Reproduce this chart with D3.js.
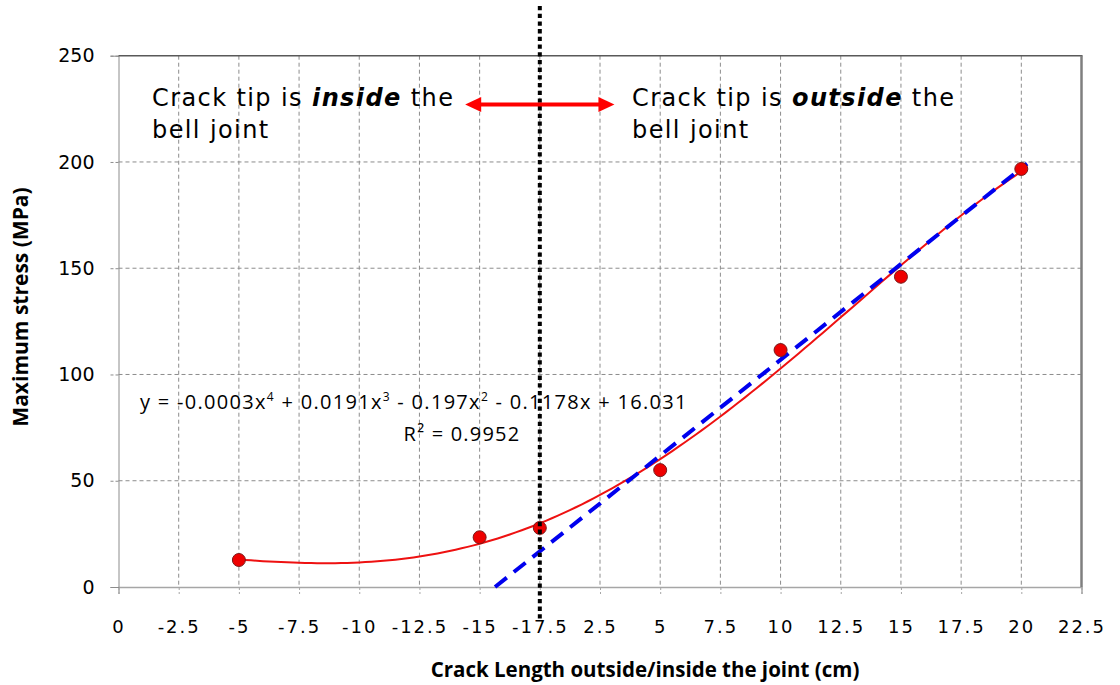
<!DOCTYPE html>
<html>
<head>
<meta charset="utf-8">
<script src="https://cdn.jsdelivr.net/npm/d3@7/dist/d3.min.js"></script>
<style>
  body { margin: 0; background: #fff; }
  text { fill: #000; }
</style>
</head>
<body>
<svg id="canvas" width="1120" height="685"></svg>
<script>
// axis position of each point (the axis runs 0..40, labels are overwritten below)
const POS_X = [5, 15, 17.5, 22.5, 27.5, 32.5, 37.5];
const STRESS = [12.7, 23.4, 27.8, 55, 111.5, 146, 196.7];

const X_LABELS = ["0", "-2.5", "-5", "-7.5", "-10", "-12.5", "-15", "-17.5",
                  "2.5", "5", "7.5", "10", "12.5", "15", "17.5", "20", "22.5"];
const Y_TICKS = [0, 50, 100, 150, 200, 250];

// hand drawn linear trend (blue dashes)
const TREND_X = [15.64, 37.74];
const TREND_Y = [0, 199.2];

const DIVIDE_X = 17.5;
const ARROW_X = [14.4, 20.6];
const ARROW_Y = 227;

const EQUATION = ["y = -0.0003x", "4", " + 0.0191x", "3", " - 0.197x", "2", " - 0.1178x + 16.031"];
const R2 = "R² = 0.9952";

let svg = d3.select('#canvas');

let plotLeft = 118.5, plotRight = 1081.5, plotTop = 55.7, plotBottom = 587;

let xScale = d3.scaleLinear().domain([0, 40]).range([plotLeft, plotRight]);
let yScale = d3.scaleLinear().domain([0, 250]).range([plotBottom, plotTop]);

let xTickPos = X_LABELS.map((d, i) => i * 2.5);

// ---- grid ----
svg.append('g')
   .selectAll('line')
   .data(xTickPos.slice(1, -1))
   .enter()
   .append('line')
   .attr('x1', d => xScale(d)).attr('x2', d => xScale(d))
   .attr('y1', plotTop).attr('y2', plotBottom)
   .attr('stroke', '#8c8c8c').attr('stroke-dasharray', '4,3').attr('stroke-width', 1);

svg.append('g')
   .selectAll('line')
   .data(Y_TICKS.slice(1, -1))
   .enter()
   .append('line')
   .attr('x1', plotLeft).attr('x2', plotRight)
   .attr('y1', d => yScale(d)).attr('y2', d => yScale(d))
   .attr('stroke', '#8c8c8c').attr('stroke-dasharray', '4,3').attr('stroke-width', 1);

// ---- axes ----
let xAxis = d3.axisBottom(xScale)
    .tickValues(xTickPos)
    .tickFormat((d, i) => X_LABELS[i])
    .tickSize(7)
    .tickPadding(26);

let gx = svg.append('g')
    .attr('transform', 'translate(0,' + plotBottom + ')')
    .call(xAxis);
gx.select('.domain').attr('stroke', '#a6a6a6').attr('stroke-width', 1.5);
gx.selectAll('.tick line').attr('stroke', '#a6a6a6').attr('stroke-dasharray', '3,2');
gx.selectAll('.tick text')
    .attr('font-family', 'DejaVu Sans')
    .attr('font-size', 18)
    .attr('letter-spacing', 2)
    .attr('fill', '#000');

let yAxis = d3.axisLeft(yScale)
    .tickValues(Y_TICKS)
    .tickSize(8)
    .tickPadding(16);

let gy = svg.append('g')
    .attr('transform', 'translate(' + plotLeft + ',0)')
    .call(yAxis);
gy.select('.domain').attr('stroke', '#8c8c8c').attr('stroke-width', 1);
gy.selectAll('.tick line').attr('stroke', '#8c8c8c').attr('stroke-dasharray', '3,2');
gy.selectAll('.tick text')
    .attr('font-family', 'DejaVu Sans')
    .attr('font-size', 19)
    .attr('fill', '#000');

// plot frame top / right
svg.append('line')
   .attr('x1', plotLeft).attr('x2', plotRight + 1)
   .attr('y1', plotTop).attr('y2', plotTop)
   .attr('stroke', '#595959').attr('stroke-width', 1.5);
svg.append('line')
   .attr('x1', plotRight).attr('x2', plotRight)
   .attr('y1', plotTop).attr('y2', plotBottom)
   .attr('stroke', '#7f7f7f').attr('stroke-width', 2.5);

// ---- titles ----
svg.append('text')
   .attr('x', 645).attr('y', 677)
   .attr('text-anchor', 'middle')
   .attr('font-family', 'Open Sans')
   .attr('font-weight', 'bold')
   .attr('font-size', 20.5)
   .text('Crack Length outside/inside the joint (cm)');

svg.append('text')
   .attr('transform', 'translate(28,307) rotate(-90)')
   .attr('text-anchor', 'middle')
   .attr('font-family', 'Open Sans')
   .attr('font-weight', 'bold')
   .attr('font-size', 21)
   .text('Maximum stress (MPa)');

// ---- polynomial trend (least squares, order 4, like the spreadsheet trendline) ----
let polyfit = (xs, ys, deg) => {
    let n = deg + 1;
    let A = [];
    for (let r = 0; r < n; r++) {
        A.push(new Array(n + 1).fill(0));
    }
    xs.forEach((x, k) => {
        for (let r = 0; r < n; r++) {
            for (let c = 0; c < n; c++) {
                A[r][c] += Math.pow(x, r + c);
            }
            A[r][n] += ys[k] * Math.pow(x, r);
        }
    });
    for (let c = 0; c < n; c++) {
        let p = c;
        for (let r = c + 1; r < n; r++) if (Math.abs(A[r][c]) > Math.abs(A[p][c])) p = r;
        [A[c], A[p]] = [A[p], A[c]];
        for (let r = 0; r < n; r++) {
            if (r === c) continue;
            let f = A[r][c] / A[c][c];
            for (let k = c; k <= n; k++) A[r][k] -= f * A[c][k];
        }
    }
    return A.map((row, i) => row[n] / row[i]);
};

let norm = x => (x - 20) / 20;
let coef = polyfit(POS_X.map(norm), STRESS, 4);
let evalPoly = x => coef.reduce((s, c, i) => s + c * Math.pow(norm(x), i), 0);

let curveX = d3.range(POS_X[0], POS_X[POS_X.length - 1] + 0.001, 0.25);
let line = d3.line()
    .x(d => xScale(d))
    .y(d => yScale(evalPoly(d)));

svg.append('path')
   .datum(curveX)
   .attr('d', line)
   .attr('fill', 'none')
   .attr('stroke', '#ee1111')
   .attr('stroke-width', 2);

// ---- linear trend ----
svg.append('line')
   .attr('x1', xScale(TREND_X[0])).attr('y1', yScale(TREND_Y[0]))
   .attr('x2', xScale(TREND_X[1])).attr('y2', yScale(TREND_Y[1]))
   .attr('stroke', '#0000ee')
   .attr('stroke-width', 4)
   .attr('stroke-dasharray', '15,9');

// ---- points ----
svg.append('g')
   .selectAll('circle')
   .data(POS_X)
   .enter()
   .append('circle')
   .attr('cx', d => xScale(d))
   .attr('cy', (d, i) => yScale(STRESS[i]))
   .attr('r', 6.5)
   .attr('fill', '#ee0000')
   .attr('stroke', '#7a1a1a')
   .attr('stroke-width', 1);

// ---- divider ----
svg.append('line')
   .attr('x1', xScale(DIVIDE_X)).attr('x2', xScale(DIVIDE_X))
   .attr('y1', 6).attr('y2', 620)
   .attr('stroke', '#000')
   .attr('stroke-width', 4)
   .attr('stroke-dasharray', '4.3,3.4');

// ---- arrow ----
let ax0 = xScale(ARROW_X[0]), ax1 = xScale(ARROW_X[1]), ay = yScale(ARROW_Y);
svg.append('line')
   .attr('x1', ax0 + 12).attr('x2', ax1 - 12)
   .attr('y1', ay).attr('y2', ay)
   .attr('stroke', '#ff0000').attr('stroke-width', 4);
svg.append('path')
   .attr('d', 'M' + ax0 + ',' + ay + ' l16,-7.5 l0,15 Z')
   .attr('fill', '#ff0000');
svg.append('path')
   .attr('d', 'M' + ax1 + ',' + ay + ' l-16,-7.5 l0,15 Z')
   .attr('fill', '#ff0000');

// ---- annotations ----
let note = (x, word) => {
    let t = svg.append('text')
        .attr('x', x).attr('y', 106)
        .attr('font-family', 'DejaVu Sans')
        .attr('font-size', 24)
        .attr('letter-spacing', 1.4);
    t.append('tspan').text('Crack tip is ');
    t.append('tspan').attr('font-weight', 'bold').attr('font-style', 'italic').text(word);
    t.append('tspan').text(' the');
    svg.append('text')
        .attr('x', x).attr('y', 138)
        .attr('font-family', 'DejaVu Sans')
        .attr('font-size', 24)
        .attr('letter-spacing', 1.4)
        .text('bell joint');
};
note(152, 'inside');
note(632, 'outside');

// ---- equation ----
let eq = svg.append('text')
    .attr('x', 140).attr('y', 409)
    .attr('font-family', 'Open Sans')
    .attr('font-size', 20)
    .attr('letter-spacing', 1.3);
EQUATION.forEach((s, i) => {
    if (i % 2 === 1) {
        eq.append('tspan').attr('dy', -8).attr('font-size', 12).text(s);
    } else {
        eq.append('tspan').attr('dy', i === 0 ? 0 : 8).text(s);
    }
});
svg.append('text')
   .attr('x', 462).attr('y', 441)
   .attr('text-anchor', 'middle')
   .attr('font-family', 'Open Sans')
   .attr('font-size', 20)
   .attr('letter-spacing', 1.2)
   .text(R2);
</script>
</body>
</html>
